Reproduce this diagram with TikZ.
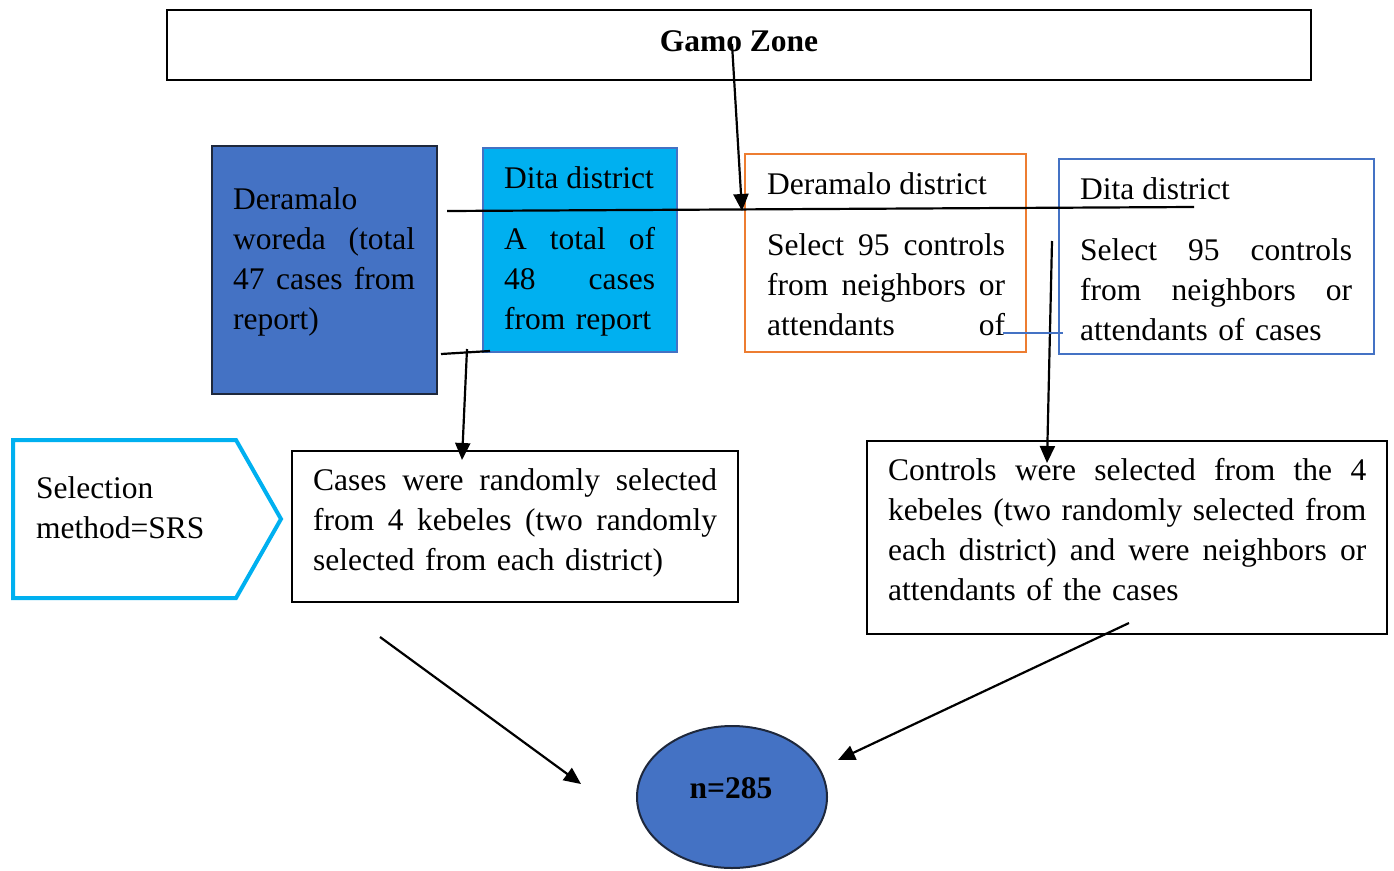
\documentclass[tikz,border=0pt]{standalone}
\usepackage{fontspec}
\setmainfont{Liberation Serif}
\usepackage{xcolor}
\usetikzlibrary{arrows.meta}
\usetikzlibrary{shapes.geometric}
\definecolor{woredablue}{RGB}{68,114,196}
\definecolor{skycyan}{RGB}{0,176,240}
\definecolor{accorange}{RGB}{237,125,49}
\definecolor{darkedge}{RGB}{30,40,60}
\newcommand{\jl}[1]{\leavevmode\hbox to\hsize{\spaceskip=0.25em plus 1fil\relax #1}}
\tikzset{
    frame/.style={draw, line width=2pt, inner sep=0pt},
    txt/.style={inner sep=0pt, anchor=north west, yshift=28pt, align=left, font=\fontsize{31.5}{40}\selectfont},
    conn/.style={line width=2.2pt},
    arr/.style={conn, -{Triangle[length=17pt,width=15pt]}}
}

\begin{document}
\begin{tikzpicture}[x=1pt, y=-1pt]
\useasboundingbox (0,0) rectangle (1394,870);
% boxes
\node[frame, minimum width=1144pt, minimum height=70pt] (gamo) at (739,45) {};
\node[frame, fill=woredablue, draw=darkedge, line width=2.5pt, minimum width=225pt, minimum height=248pt] (woreda) at (324.5,270) {};
\node[frame, fill=skycyan, draw=woredablue, minimum width=194pt, minimum height=204pt] (ditacases) at (580,250) {};
\node[frame, draw=accorange, line width=2.5pt, minimum width=281pt, minimum height=198pt] (deramalo) at (885.5,253) {};
\node[frame, draw=woredablue, line width=2.5pt, minimum width=315pt, minimum height=195pt] (dita) at (1216.5,256.5) {};
\node[frame, line width=1.6pt, minimum width=446pt, minimum height=151pt] (cases) at (515,526.5) {};
\node[frame, minimum width=520pt, minimum height=193pt] (controls) at (1127,537.5) {};
\draw[skycyan, line width=4pt] (13,440) -- (236,440) -- (281,519) -- (236,598) -- (13,598) -- cycle;
\node[frame, ellipse, fill=woredablue, draw=darkedge, minimum width=190pt, minimum height=142pt] (total) at (732,797) {};
% texts
\node[font=\fontsize{31.5}{40}\selectfont\bfseries, anchor=base] (gamolabel) at (739,51) {Gamo Zone};
\node[txt, text width=182pt] (woredatext) at (233,209) {\strut Deramalo\\ \jl{woreda (total}\\ \jl{47 cases from}\\ report)};
\node[txt] (ditacasestitle) at (504,188) {\strut Dita district};
\node[txt, text width=151pt] (ditacasestext) at (504,249) {\strut\jl{A total of}\\ \jl{48 cases}\\ from report};
\node[txt] (deramalotitle) at (767,194) {\strut Deramalo district};
\node[txt, text width=238pt] (deramalotext) at (767,255) {\strut\jl{Select 95 controls}\\ \jl{from neighbors or}\\ \jl{attendants of}};
\node[txt] (ditatitle) at (1080,199) {\strut Dita district};
\node[txt, text width=272pt] (ditatext) at (1080,260) {\strut\jl{Select 95 controls}\\ \jl{from neighbors or}\\ attendants of cases};
\node[txt] (selection) at (36,498) {\strut Selection\\ method=SRS};
\node[txt, text width=404pt] (casestext) at (313,490) {\strut\jl{Cases were randomly selected}\\ \jl{from 4 kebeles (two randomly}\\ selected from each district)};
\node[txt, text width=478pt] (controlstext) at (888,480) {\strut\jl{Controls were selected from the 4}\\ \jl{kebeles (two randomly selected from}\\ \jl{each district) and were neighbors or}\\ attendants of the cases};
\node[font=\fontsize{31.5}{40}\selectfont\bfseries, anchor=base] (totallabel) at (731,798) {n=285};
% connectors
\foreach \x/\y/\p in {732/44/za, 742/211/zb, 447/211/ha, 1194/207/hb, 441/354/sa, 490/351/sb, 467/349/ca, 462/460/cb, 1052/241/ra, 1047/463/rb, 1003/333/ba, 1063/333/bb, 380/637/la, 581/784/lb, 1129/623/ka, 838/760/kb}{
    \coordinate (\p) at (\x,\y);
}
\draw[arr] (za) -- (zb);
\draw[conn] (ha) -- (hb);
\draw[conn] (sa) -- (sb);
\draw[arr] (ca) -- (cb);
\draw[arr] (ra) -- (rb);
\draw[woredablue, line width=1.2pt] (ba) -- (bb);
\draw[arr] (la) -- (lb);
\draw[arr] (ka) -- (kb);
\end{tikzpicture}
\end{document}
